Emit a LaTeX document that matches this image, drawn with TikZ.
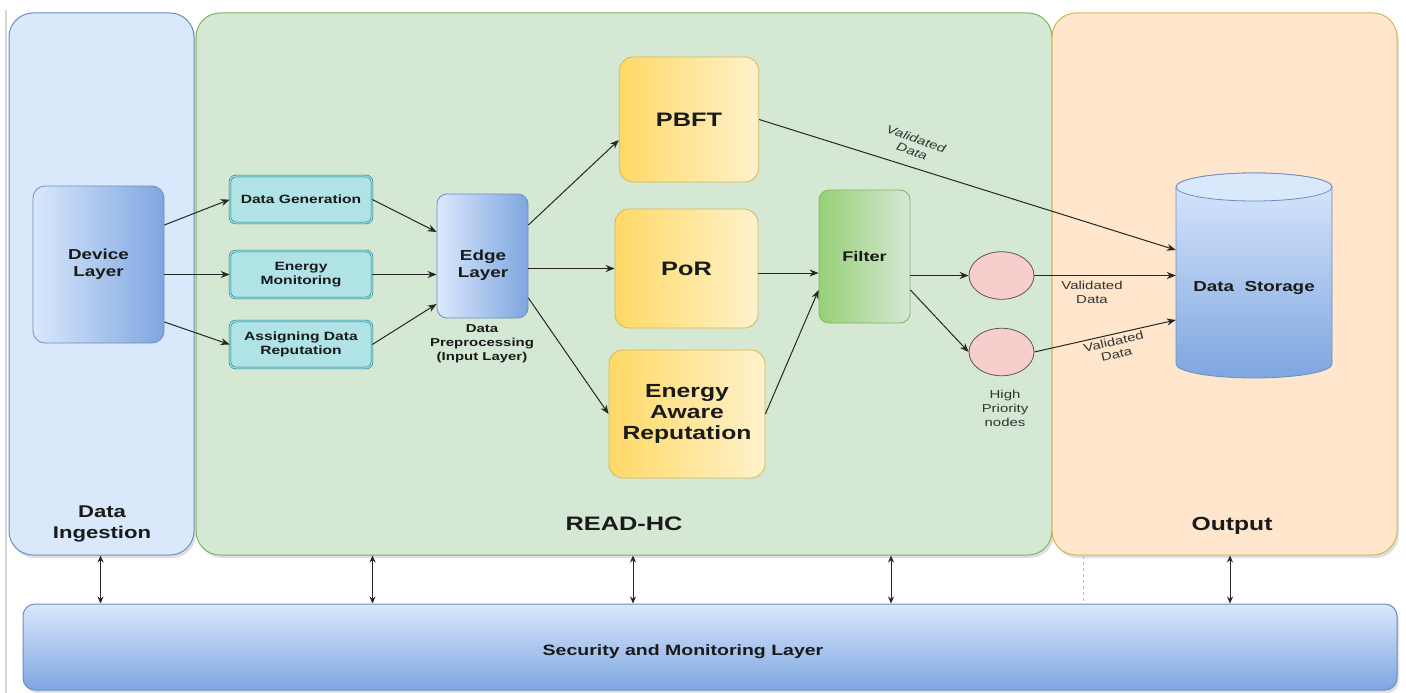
\documentclass[tikz,border=0pt]{standalone}
\usepackage{fontspec}
\setmainfont{Liberation Sans}[FakeStretch=1.3]
\usetikzlibrary{arrows.meta,shapes.geometric,shadows,calc}
\definecolor{ingFill}{HTML}{DAE8FC}
\definecolor{blueLine}{HTML}{6C8EBF}
\definecolor{blueDark}{HTML}{7EA6E0}
\definecolor{greenFill}{HTML}{D5E8D4}
\definecolor{greenLine}{HTML}{82B366}
\definecolor{greenDark}{HTML}{97D077}
\definecolor{orangeFill}{HTML}{FFE6CC}
\definecolor{goldLine}{HTML}{D6B656}
\definecolor{yellowDark}{HTML}{FFD966}
\definecolor{yellowLight}{HTML}{FFF2CC}
\definecolor{tealFill}{HTML}{B0E3E6}
\definecolor{tealLine}{HTML}{0E8088}
\definecolor{pinkFill}{HTML}{F8CECC}
\definecolor{edgeGray}{HTML}{D6D6D6}
\definecolor{txt}{HTML}{1A1A1A}
\newcommand{\fsz}[2]{\fontsize{#1}{#2}\selectfont}
\begin{document}
\begin{tikzpicture}[x=1pt,y=-1pt,
  container/.style={draw, line width=1pt, rounded corners=24pt, inner sep=0pt,
    drop shadow={shadow xshift=2pt, shadow yshift=-3pt, opacity=0.25}},
  gradbox/.style={draw=blueLine, line width=0.8pt, left color=ingFill, right color=blueDark,
    align=center, inner sep=0pt, text=txt},
  tealbox/.style={draw=tealLine, line width=0.6pt, double=tealFill, double distance=1.2pt,
    fill=tealFill, rounded corners=6pt, minimum width=142pt, minimum height=47pt,
    align=center, inner sep=0pt, text=txt, font=\fsz{12}{13.5}\bfseries},
  yellowbox/.style={draw=goldLine, line width=0.8pt, left color=yellowDark, right color=yellowLight,
    rounded corners=14pt, align=center, inner sep=0pt, text=txt},
  greenbox/.style={draw=greenLine, line width=0.8pt, left color=greenDark, right color=greenFill,
    rounded corners=10pt, align=center, inner sep=0pt, text=txt},
  pinknode/.style={ellipse, draw=black!65, fill=pinkFill, line width=0.8pt,
    minimum width=65pt, minimum height=47.5pt, inner sep=0pt},
  ttl/.style={text=txt, align=center, inner sep=0pt, font=\fsz{19.5}{21}\bfseries},
  vlab/.style={text=black!80, align=center, inner sep=0pt, font=\fsz{11.5}{13}},
  arr/.style={-{Stealth[length=9pt,width=7pt]}, line width=1pt, black!85},
  bi/.style={{Stealth[length=7pt,width=6pt]}-{Stealth[length=7pt,width=6pt]}, line width=1pt, black!85}
]
\fill[white] (0,0) rectangle (1406,693);
\useasboundingbox (0,0) rectangle (1406,693);
\draw[edgeGray, line width=1.5pt] (6,10) -- (6,693);

% containers
\node[container, fill=ingFill, draw=blueLine, minimum width=185pt, minimum height=542pt] (ing) at (101.5,284) {};
\node[container, fill=greenFill, draw=greenLine, minimum width=856pt, minimum height=542pt] (read) at (624,284) {};
\node[container, fill=orangeFill, draw=goldLine, minimum width=345pt, minimum height=542pt] (out) at (1224.5,284) {};
\node[container, rounded corners=12pt, top color=ingFill, bottom color=blueDark, draw=blueLine,
      minimum width=1374pt, minimum height=86pt] (sec) at (710,647) {};

% container titles
\node[ttl, font=\fsz{17}{21}\bfseries] (ingt) at (102,524) {Data\\Ingestion};
\node[ttl, anchor=base] (readt) at (624,530) {READ-HC};
\node[ttl, font=\fsz{19}{21}\bfseries, anchor=base] (outt) at (1232,530) {Output};
\node[ttl, font=\fsz{15}{17}\bfseries, anchor=base] (sect) at (683,655) {Security and Monitoring Layer};

% data storage cylinder
\path[draw=blueLine, line width=0.8pt, top color=ingFill, bottom color=blueDark]
  (1176,187) -- (1176,364) arc[start angle=180, end angle=0, x radius=78, y radius=14]
  -- (1332,187) arc[start angle=0, end angle=-180, x radius=78, y radius=14] -- cycle;
\draw[draw=blueLine, line width=0.8pt, fill=ingFill] (1254,187) ellipse[x radius=78, y radius=14];
\node[inner sep=0pt, minimum width=156pt, minimum height=205pt] (ds) at (1254,275.5) {};
\node[text=txt, inner sep=0pt, font=\fsz{14.5}{17}\bfseries] (dst) at (1254,288) {Data~ Storage};

% nodes
\node[gradbox, rounded corners=12pt, minimum width=131pt, minimum height=157pt,
      font=\fsz{14.5}{17}\bfseries] (dev) at (98.5,264.5) {Device\\Layer};
\node[tealbox] (dg) at (301,199.5) {Data Generation};
\node[tealbox] (em) at (301,274.5) {Energy\\Monitoring};
\node[tealbox] (as) at (301,344.5) {Assigning Data\\Reputation};
\node[gradbox, rounded corners=10pt, minimum width=91pt, minimum height=124pt] (edgel) at (482.5,256) {};
\node[text=txt, align=center, inner sep=0pt, font=\fsz{14.5}{17}\bfseries] (edgetxt) at (483,265) {Edge\\Layer};
\node[text=txt, align=center, inner sep=0pt, font=\fsz{11.5}{14}\bfseries] (dp) at (482,344) {Data\\Preprocessing\\(Input Layer)};

\node[yellowbox, minimum width=139.5pt, minimum height=125pt, font=\fsz{19.5}{21}\bfseries] (pbft) at (689,119.5) {PBFT};
\node[yellowbox, minimum width=143pt, minimum height=119pt, font=\fsz{19.5}{21}\bfseries] (por) at (686.5,268.5) {PoR};
\node[yellowbox, minimum width=156pt, minimum height=128pt, font=\fsz{19}{21}\bfseries] (ear) at (687,414) {Energy\\Aware\\Reputation};
\node[greenbox, minimum width=91pt, minimum height=133pt, font=\fsz{14}{16}\bfseries] (filt) at (864.5,256.5) {Filter};

\node[pinknode] (c1) at (1001.5,275.5) {};
\node[pinknode] (c2) at (1001.5,352) {};
\node[vlab, font=\fsz{11.5}{14}] (hp) at (1005,408) {High\\Priority\\nodes};

% connectors
\draw[arr] ([yshift=39.5pt]dev.east) -- (dg.west);
\draw[arr] (em.west -| dev.east) -- (em.west);
\draw[arr] ([yshift=-57.5pt]dev.east) -- (as.west);
\draw[arr] (dg.east) -- ([yshift=24pt]edgel.west);
\draw[arr] (em.east) -- (em.east -| edgel.west);
\draw[arr] (as.east) -- ([yshift=-48pt]edgel.west);
\draw[arr] ([yshift=31pt]edgel.east) -- ([yshift=-20.5pt]pbft.west);
\draw[arr] (por.west -| edgel.east) -- (por.west);
\draw[arr] ([yshift=-42pt]edgel.east) -- (ear.west);
\draw[arr] (pbft.east) -- ([yshift=25.5pt]ds.west);
\draw[arr] ([yshift=-4.5pt]por.east) -- ([yshift=-4.5pt]por.east -| filt.west);
\draw[arr] (ear.east) -- ([yshift=-33.5pt]filt.west);
\draw[arr] (c1.west -| filt.east) -- (c1.west);
\draw[arr] ([yshift=-33.5pt]filt.east) -- (c2.west);
\draw[arr] (c1.east) -- (ds.west);
\draw[arr] (c2.east) -- ([yshift=-44.5pt]ds.west);

% connector labels
\node[vlab, rotate=-19, font=\fsz{11.5}{13}\itshape] (vl1) at (914,145) {Validated\\Data};
\node[vlab, font=\fsz{11.5}{14}] (vl2) at (1092,292) {Validated\\Data};
\node[vlab, rotate=13] (vl3) at (1115,348) {Validated\\Data};

% links to security layer
\coordinate (a1) at (100.5,0);
\coordinate (a2) at (372.5,0);
\coordinate (a3) at (633,0);
\coordinate (a4) at (891,0);
\coordinate (a5) at (1230,0);
\coordinate (a6) at (1083,0);
\draw[bi] (a1 |- ing.south) -- (a1 |- sec.north);
\draw[bi] (a2 |- read.south) -- (a2 |- sec.north);
\draw[bi] (a3 |- read.south) -- (a3 |- sec.north);
\draw[bi] (a4 |- read.south) -- (a4 |- sec.north);
\draw[bi] (a5 |- out.south) -- (a5 |- sec.north);
\draw[gray!55, line width=0.8pt, dash pattern=on 3pt off 3pt] (a6 |- out.south) -- (a6 |- sec.north);
\end{tikzpicture}
\end{document}
